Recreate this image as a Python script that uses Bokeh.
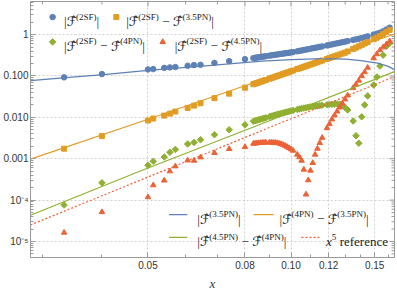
import math
from bokeh.plotting import figure
from bokeh.models import FixedTicker, Label, ColumnDataSource, Range1d
from bokeh.embed import file_html
from bokeh.resources import INLINE

BLUE = "#5E81B5"
ORANGE = "#E19C24"
GREEN = "#8FB032"
RED = "#EB6235"

# ---------------- data ----------------
x_pts = [0.0333, 0.0400, 0.0500, 0.0513, 0.0541, 0.0556, 0.0571, 0.0606, 0.0625, 0.0645, 0.0690, 0.0741, 0.0800,
         0.08333, 0.08403, 0.08475, 0.08547, 0.08621, 0.08696, 0.08772, 0.08850, 0.09009, 0.09091,
         0.09174, 0.09259, 0.09346, 0.09434, 0.09524, 0.09615, 0.09709, 0.09804, 0.09901, 0.10000,
         0.10101, 0.10309, 0.10417, 0.10526, 0.10638, 0.10753, 0.10870, 0.10989, 0.11111, 0.11236,
         0.11364, 0.11494, 0.11628, 0.11905, 0.12048, 0.12195, 0.12346, 0.12500, 0.12658, 0.12821,
         0.12987, 0.13158, 0.13514, 0.13699, 0.13889, 0.14085, 0.14286, 0.14493, 0.14925, 0.15152,
         0.15385, 0.15625, 0.15873, 0.16129]

f_2sf = [0.0925, 0.111, 0.144, 0.1465, 0.157, 0.161, 0.164, 0.176, 0.183, 0.186, 0.207, 0.228, 0.255,
         0.270, 0.2745, 0.2786, 0.2825, 0.2868, 0.2911, 0.2955, 0.2999, 0.3097, 0.3144,
         0.3194, 0.3245, 0.3297, 0.3351, 0.3406, 0.3464, 0.3524, 0.3582, 0.3645, 0.3708,
         0.3773, 0.3937, 0.4032, 0.4130, 0.4232, 0.4335, 0.4443, 0.4556, 0.4673, 0.4791,
         0.4916, 0.5047, 0.5181, 0.5465, 0.5620, 0.5788, 0.5962, 0.6144, 0.6335, 0.6532,
         0.6740, 0.6958, 0.7422, 0.7670, 0.7931, 0.8230, 0.8634, 0.9066, 1.000, 1.052,
         1.108, 1.196, 1.326, 1.471]

d_35 = [0.00175, 0.00353, 0.00838, 0.00935, 0.0110, 0.0123, 0.0138, 0.0169, 0.0192, 0.0219, 0.0290, 0.0374, 0.0520,
        0.0630, 0.0652, 0.0673, 0.0697, 0.0721, 0.0746, 0.0772, 0.0799, 0.0858, 0.0890,
        0.0922, 0.0956, 0.0992, 0.1030, 0.1069, 0.1111, 0.1154, 0.1199, 0.1247, 0.1297,
        0.1350, 0.1463, 0.1524, 0.1589, 0.1658, 0.1729, 0.1805, 0.1886, 0.1970, 0.2058,
        0.2152, 0.2252, 0.2357, 0.2587, 0.2713, 0.2847, 0.2987, 0.3138, 0.3300, 0.3470,
        0.3652, 0.3916, 0.4507, 0.4832, 0.5200, 0.5622, 0.6087, 0.6596, 0.7752, 0.8427,
        0.9264, 1.031, 1.163, 1.297]

d_4 = [7.6e-5, 2.62e-4, 6.94e-4, 8.65e-4, 1.10e-3, 1.43e-3, 1.68e-3, 2.27e-3, 2.48e-3, 2.88e-3, 3.80e-3, 5.0e-3, 6.6e-3,
       8.01e-3, 8.24e-3, 8.47e-3, 8.71e-3, 8.95e-3, 9.20e-3, 9.46e-3, 9.77e-3, 1.04e-2, 1.07e-2,
       1.10e-2, 1.135e-2, 1.17e-2, 1.21e-2, 1.24e-2, 1.28e-2, 1.31e-2, 1.355e-2, 1.39e-2, 1.43e-2,
       1.47e-2, 1.55e-2, 1.59e-2, 1.64e-2, 1.67e-2, 1.71e-2, 1.75e-2, 1.79e-2, 1.83e-2, 1.86e-2,
       1.89e-2, 1.93e-2, 1.96e-2, 2.02e-2, 2.04e-2, 2.06e-2, 2.09e-2, 2.11e-2, 2.08e-2, 1.94e-2,
       1.74e-2, 1.51e-2, 8.15e-3, 3.59e-3, 2.37e-3, 1.03e-2, 2.0e-2, 3.29e-2, 6.04e-2, 9.41e-2,
       0.173, 0.318, 0.523, 0.62]

d_45 = [1.64e-5, 5.15e-5, 1.18e-4, 2.30e-4, 2.98e-4, 4.98e-4, 6.56e-4, 9.15e-4, 9.0e-4, 1.08e-3, 1.38e-3, 1.72e-3, 1.92e-3,
        2.31e-3, 2.34e-3, 2.37e-3, 2.40e-3, 2.41e-3, 2.44e-3, 2.44e-3, 2.47e-3, 2.47e-3, 2.47e-3,
        2.44e-3, 2.44e-3, 2.40e-3, 2.34e-3, 2.27e-3, 2.18e-3, 2.07e-3, 1.95e-3, 1.82e-3, 1.70e-3,
        1.57e-3, 1.26e-3, 1.09e-3, 9.0e-4, 5.47e-4, 1.37e-4, 3.03e-4, 5.18e-4, 7.93e-4, 1.26e-3,
        1.75e-3, 2.40e-3, 3.21e-3, 5.50e-3, 6.98e-3, 8.95e-3, 0.0112, 0.0139, 0.0174, 0.0217,
        0.0271, 0.0338, 0.0512, 0.0621, 0.0774, 0.0995, 0.124, 0.159, 0.269, 0.336,
        0.419, 0.494, 0.585, 0.690]

# PN curves
x_c35 = [0.0283, 0.0336, 0.0403, 0.0500, 0.0651, 0.0763, 0.0868, 0.1003, 0.1158, 0.1305, 0.1403, 0.1522, 0.1597, 0.1651]
f_35 = [0.0775, 0.0915, 0.108, 0.136, 0.173, 0.201, 0.228, 0.248, 0.262, 0.255, 0.2346, 0.204, 0.173, 0.1425]
x_c4 = [0.0283, 0.0500, 0.1651]
f_4m35 = [0.00098, 0.0090, 1.03]
x_c45 = [0.0283, 0.0476, 0.0868, 0.1651]
f_45m4 = [4.29e-5, 4.76e-4, 6.98e-3, 0.1276]
x_ref = [0.0283, 0.1651]
f_ref = [2.51e-5, 0.0967]

x_major = [0.05, 0.08, 0.10, 0.12, 0.15]
x_labels = ["0.05", "0.08", "0.10", "0.12", "0.15"]
x_minor = [0.03, 0.04, 0.06, 0.07, 0.09, 0.11, 0.13, 0.14, 0.16]
y_major = [1e-5, 1e-4, 1e-3, 1e-2, 1e-1, 1.0]
y_labels = ["10\u207b\u2075", "10\u207b\u2074", "0.001", "0.010", "0.100", "1"]
y_minor = [m * d for d in [1e-6, 1e-5, 1e-4, 1e-3, 1e-2, 1e-1, 1.0] for m in range(2, 10)]

# ---------------- figure ----------------
X0, X1 = 0.0283, 0.1651
Y0, Y1 = 4.1e-6, 6.3
FRAME_W, FRAME_H = 368, 257
p = figure(width=397, height=293, x_axis_type="log", y_axis_type="log",
           x_range=Range1d(X0, X1), y_range=Range1d(Y0, Y1),
           output_backend="svg", toolbar_location=None,
           min_border_left=26, min_border_right=3, min_border_top=1, min_border_bottom=35)
p.background_fill_color = "white"
p.border_fill_color = "white"
p.outline_line_color = "#9a9a9a"

FRAME = "#9a9a9a"
TICKTXT = "#333333"


def style_axis(ax):
    ax.major_tick_in = 5
    ax.major_tick_out = 0
    ax.minor_tick_in = 3
    ax.minor_tick_out = 0
    ax.axis_line_color = FRAME
    ax.major_tick_line_color = FRAME
    ax.minor_tick_line_color = FRAME
    ax.major_label_text_font = "Liberation Sans"
    ax.major_label_text_font_size = "10px"
    ax.major_label_text_color = TICKTXT
    ax.major_label_standoff = 3


xa = p.xaxis[0]
xa.ticker = FixedTicker(ticks=x_major, minor_ticks=x_minor)
xa.major_label_overrides = {t: s for t, s in zip(x_major, x_labels)}
style_axis(xa)
xa.axis_label = "x"
xa.axis_label_text_font = "Liberation Serif"
xa.axis_label_text_font_style = "italic"
xa.axis_label_text_font_size = "13px"
xa.axis_label_text_color = TICKTXT
xa.axis_label_standoff = 4

ya = p.yaxis[0]
ya.ticker = FixedTicker(ticks=y_major, minor_ticks=y_minor)
ya.major_label_overrides = {t: s for t, s in zip(y_major, y_labels)}
style_axis(ya)
ya.major_label_standoff = 2

p.xgrid.ticker = FixedTicker(ticks=x_major)
p.ygrid.ticker = FixedTicker(ticks=y_major)
for g in (p.xgrid, p.ygrid):
    g.grid_line_color = "#d0d0d0"
    g.grid_line_dash = "2 2"
    g.grid_line_width = 1

# mirrored frame ticks on the right and top edges (length given in pixels)
px_per_dec_x = FRAME_W / math.log10(X1 / X0)
px_per_dec_y = FRAME_H / math.log10(Y1 / Y0)


def right_ticks(ticks, length):
    xin = 10 ** (math.log10(X1) - length / px_per_dec_x)
    ts = [t for t in ticks if Y0 < t < Y1]
    p.segment(x0=[X1] * len(ts), y0=ts, x1=[xin] * len(ts), y1=ts, color=FRAME, line_width=1)


def top_ticks(ticks, length):
    yin = 10 ** (math.log10(Y1) - length / px_per_dec_y)
    ts = [t for t in ticks if X0 < t < X1]
    p.segment(x0=ts, y0=[Y1] * len(ts), x1=ts, y1=[yin] * len(ts), color=FRAME, line_width=1)


right_ticks(y_major, 5)
right_ticks(y_minor, 3)
top_ticks(x_major, 5)
top_ticks(x_minor, 3)

# ---------------- data marks ----------------
src = ColumnDataSource(dict(x=x_pts, a=f_2sf, b=d_35, c=d_4, d=d_45))
p.scatter("x", "a", source=src, marker="circle", size=5.5, color=BLUE)
p.scatter("x", "b", source=src, marker="square", size=5, color=ORANGE)
p.scatter("x", "c", source=src, marker="square", size=4.6, angle=math.pi / 4, color=GREEN)
p.scatter("x", "d", source=src, marker="triangle", size=5.5, color=RED)

p.line(x_c35, f_35, color=BLUE, line_width=1.2)
p.line(x_c4, f_4m35, color=ORANGE, line_width=1.2)
p.line(x_c45, f_45m4, color=GREEN, line_width=1.2)
p.line(x_ref, f_ref, color=RED, line_width=1.2, line_dash="2 2")

# ---------------- legends (drawn by hand for super-scripts) ----------------
SERIF = "Liberation Serif"
FFONT = "DejaVu Sans"
BASE = 13
SUP = 9
EM = {"|": 0.2, "(": 0.333, ")": 0.333, ".": 0.25, " ": 0.25, "\u2212": 0.564,
      "S": 0.556, "F": 0.556, "P": 0.556, "N": 0.722,
      "r": 0.333, "e": 0.444, "f": 0.333, "n": 0.5, "c": 0.444, "x": 0.444}
F_HAT = "\u2131\u0302"
F_W = 0.72
GAP = 0.27
TXT = "#222222"


def width(s, size):
    return sum(EM.get(ch, 0.5) for ch in s) * size


def math_label(x, y, parts):
    off = 0.0
    for txt, kind in parts:
        if kind == "g":
            off += GAP * BASE
            continue
        font, size, dy, style, w = SERIF, BASE, -4.5, "normal", None
        if kind == "s":
            size, dy = SUP, 0.5
        elif kind == "F":
            font, w = FFONT, F_W * BASE
        elif kind == "i":
            style = "italic"
        p.add_layout(Label(x=x, y=y, x_offset=off, y_offset=dy, text=txt,
                           text_font=font, text_font_size=f"{size}px",
                           text_font_style=style, text_color=TXT,
                           text_baseline="alphabetic", text_align="left"))
        off += w if w is not None else width(txt, size)


def diff(a, b):
    return [("|", "n"), (F_HAT, "F"), (a, "s"), ("", "g"), ("\u2212", "n"), ("", "g"),
            (F_HAT, "F"), (b, "s"), ("|", "n")]


LEG_Y1, LEG_Y2 = 2.65, 0.664
p.scatter([0.0315], [LEG_Y1], marker="circle", size=5.5, color=BLUE)
p.scatter([0.0429], [LEG_Y1], marker="square", size=5, color=ORANGE)
p.scatter([0.0315], [LEG_Y2], marker="square", size=4.6, angle=math.pi / 4, color=GREEN)
p.scatter([0.0537], [LEG_Y2], marker="triangle", size=5.5, color=RED)
math_label(0.0333, LEG_Y1, [("|", "n"), (F_HAT, "F"), ("(2SF)", "s"), ("|", "n")])
math_label(0.0450, LEG_Y1, diff("(2SF)", "(3.5PN)"))
math_label(0.0333, LEG_Y2, diff("(2SF)", "(4PN)"))
math_label(0.0569, LEG_Y2, diff("(2SF)", "(4.5PN)"))

LB_Y1, LB_Y2 = 4.46e-5, 1.25e-5
p.line([0.0554, 0.0605], [LB_Y1, LB_Y1], color=BLUE, line_width=1.2)
p.line([0.0834, 0.0919], [LB_Y1, LB_Y1], color=ORANGE, line_width=1.2)
p.line([0.0554, 0.0605], [LB_Y2, LB_Y2], color=GREEN, line_width=1.2)
p.line([0.1052, 0.1150], [LB_Y2, LB_Y2], color=RED, line_width=1.2, line_dash="2 2")
math_label(0.0635, LB_Y1, [("|", "n"), (F_HAT, "F"), ("(3.5PN)", "s"), ("|", "n")])
math_label(0.0946, LB_Y1, diff("(4PN)", "(3.5PN)"))
math_label(0.0635, LB_Y2, diff("(4.5PN)", "(4PN)"))
math_label(0.1184, LB_Y2, [("x", "i"), ("5", "s"), ("", "g"), ("reference", "n")])

open("out.html", "w").write(file_html(p, INLINE))
